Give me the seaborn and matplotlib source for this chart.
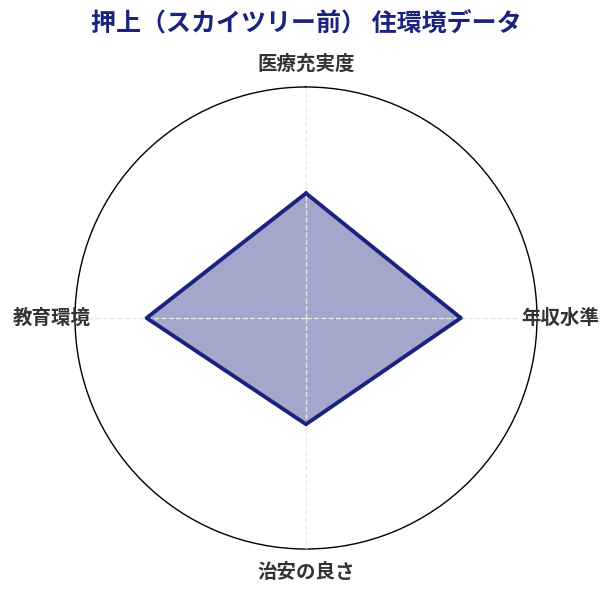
import numpy as np
import matplotlib
matplotlib.use("Agg")
import matplotlib.pyplot as plt
import seaborn as sns

# data
categories = ["医療充実度", "年収水準", "治安の良さ", "教育環境"]
scores = [54, 67, 46, 69]
max_score = 100

sns.set_style("white")
plt.rcParams['font.family'] = ['Noto Sans CJK JP', 'DejaVu Sans']

navy = "#1a237e"

angles = np.linspace(0, 2 * np.pi, len(categories), endpoint=False)
closed_angles = np.append(angles, angles[0])
closed_scores = np.append(scores, scores[0])

fig = plt.figure(figsize=(6.12, 5.95), dpi=100)
ax = fig.add_axes([0.1225, 0.0773, 0.755, 0.7765], projection="polar")
ax.set_theta_offset(np.pi / 2)
ax.set_theta_direction(-1)

ax.fill(closed_angles, closed_scores, color=navy, alpha=0.4, zorder=2)
ax.plot(closed_angles, closed_scores, color=navy, linewidth=2.8, zorder=4)

ax.set_ylim(0, max_score)
ax.set_yticks([])
ax.set_xticks(angles)
ax.set_xticklabels([])
ax.set_axisbelow(False)
ax.xaxis.grid(True, color="#e6e6e6", linestyle="--", linewidth=1.0, zorder=3)
ax.yaxis.grid(False)
ax.spines["polar"].set_color("black")
ax.spines["polar"].set_linewidth(1.0)

# axis labels centred just outside the circle
for ang, lab in zip(angles, categories):
    ax.text(ang, max_score * 1.10, lab, ha="center", va="center",
            fontsize=14, fontweight="bold", color="#333333", clip_on=False)

fig.suptitle("押上（スカイツリー前） 住環境データ", fontsize=18, fontweight="bold",
             color=navy, y=0.982)

fig.savefig("out.png", dpi=100)
